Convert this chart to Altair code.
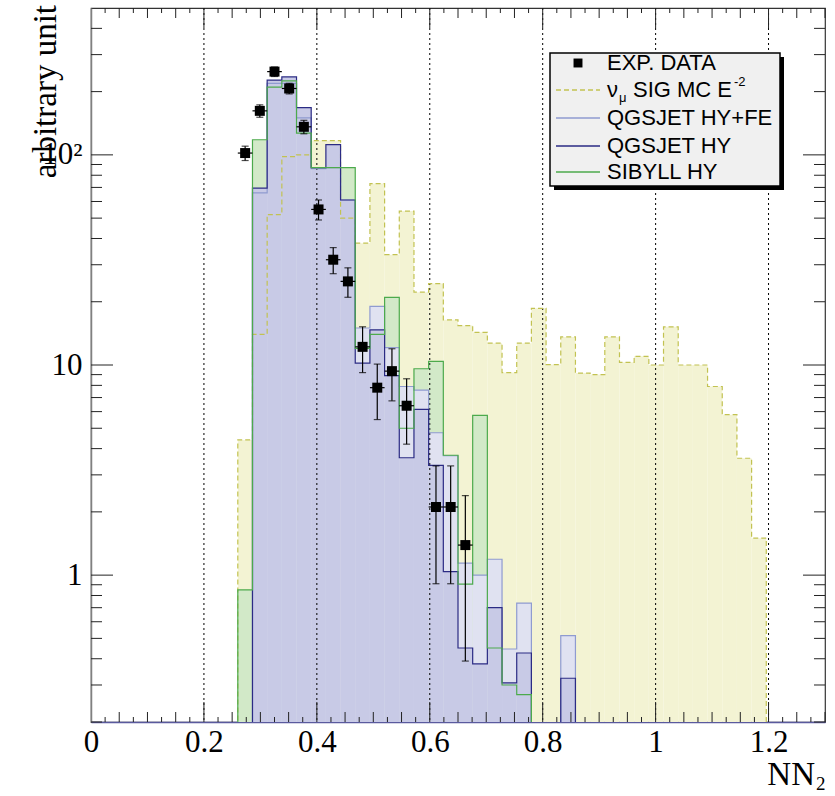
import altair as alt
import pandas as pd

# ---------------- data ----------------
BIN_WIDTH = 0.026          # 50 bins on [0, 1.3]

# signal nu_mu MC (E^-2), bins 10..45
sig_first_bin = 10
sig_values = [4.4, 14, 52, 98, 100, 117, 117, 50, 38, 73, 33.5, 54, 22.2, 24.4,
              16.4, 15.4, 14.3, 12.7, 9.2, 12.7, 18.6, 10.05, 13.6, 9.15, 9.0,
              13.6, 10.3, 11.0, 10.0, 15.2, 10.0, 10.0, 7.9, 5.8, 3.6, 1.5]

# QGSJET HY+FE, bins 11..32
hyfe_first_bin = 11
hyfe_values = [66, 219, 219, 150, 86, 87, 61, 15, 19, 12.1, 7.9, 7.6, 4.76, 3.7,
               1.14, 1.0, 1.19, 0.445, 0.736, 0, 0, 0.515]

# QGSJET HY, bins 11..32
hy_first_bin = 11
hy_values = [69.5, 227, 235, 168, 87, 112, 61, 10.2, 14.7, 8.9, 3.62, 6.15, 3.33,
             1.04, 0.45, 0.378, 0.70, 0.307, 0.426, 0, 0, 0.323]

# SIBYLL HY, bins 10..29
sib_first_bin = 10
sib_values = [0.85, 118, 210, 225, 127, 87, 87, 87, 12, 14, 21, 5, 9.6, 10.4,
              3.72, 0.906, 5.76, 0.45, 0.3, 0.27]

# experimental data, bins 10..25
data_first_bin = 10
data_values = [102, 162, 249, 207, 136, 55, 31.7, 25, 12.2, 7.8, 9.35, 6.4, None,
               2.11, 2.11, 1.39]
data_errors = [8, 11, 13, 12, 10, 6, 4.5, 4, 3, 2.3, 2.6, 2.2, None, 1.2, 1.2, 1.0]

x_tick_labels = [0, 0.2, 0.4, 0.6, 0.8, 1.0, 1.2]
y_tick_labels = [1, 10, 100]

legend_labels = ["EXP. DATA", "SIG MC E", "QGSJET HY+FE", "QGSJET HY", "SIBYLL HY"]

# ---------------- layout / style ----------------
W, H = 734, 714
SERIF = "Liberation Serif"
SANS = "Liberation Sans"

C_SIG_FILL, C_SIG_LINE = "#f3f3d3", "#c2c252"
C_HYFE_FILL, C_HYFE_LINE = "#e0e2f1", "#8f9bd0"
C_HY_FILL, C_HY_LINE = "#c8cae6", "#2b2b84"
C_SIB_FILL, C_SIB_LINE = "#d2e9c8", "#4caa4c"

xs = alt.Scale(domain=[0, 1.3], nice=False, zero=False)
ys = alt.Scale(type="log", domain=[0.2, 500], nice=False)

xaxis = alt.Axis(values=x_tick_labels, format="~g", ticks=False, grid=False,
                 domainColor="#5a5a9e", domainWidth=1.5, labelFont=SERIF,
                 labelFontSize=31, labelColor="black", labelPadding=5,
                 labelFlush=False, title=None)
yaxis = alt.Axis(values=y_tick_labels,
                 labelExpr="datum.value >= 100 ? '10\u00b2' : (datum.value >= 10 ? '10' : '1')",
                 ticks=False, grid=False, domainColor="#808080", domainWidth=1.5,
                 labelFont=SERIF, labelFontSize=31, labelColor="black",
                 labelPadding=9, title=None)


def X(field):
    return alt.X(field, scale=xs, axis=xaxis)


def Y(field):
    return alt.Y(field, scale=ys, axis=yaxis)


def rect_df(first, vals):
    rows = []
    for i, v in enumerate(vals):
        if v and v > 0:
            lo = (first + i) * BIN_WIDTH
            rows.append({"lo": lo, "hi": lo + BIN_WIDTH, "v": v})
    return pd.DataFrame(rows)


def outline_df(first, vals):
    floor = 0.05
    xsv, vsv = [first * BIN_WIDTH], [floor]
    hi = first * BIN_WIDTH
    for i, v in enumerate(vals):
        lo = (first + i) * BIN_WIDTH
        hi = lo + BIN_WIDTH
        val = v if v and v > 0 else floor
        xsv += [lo, hi]
        vsv += [val, val]
    xsv.append(hi)
    vsv.append(floor)
    return pd.DataFrame({"x": xsv, "v": vsv, "o": list(range(len(xsv)))})


def fill_layer(first, vals, color):
    return alt.Chart(rect_df(first, vals)).mark_rect(
        fill=color, strokeWidth=0
    ).encode(x=X("lo:Q"), x2="hi:Q", y=Y("v:Q"), y2=alt.value(H))


def line_layer(first, vals, color, dash=None, width=1.2):
    kw = dict(color=color, strokeWidth=width, clip=True)
    if dash:
        kw["strokeDash"] = dash
    return alt.Chart(outline_df(first, vals)).mark_line(**kw).encode(
        x=X("x:Q"), y=Y("v:Q"), order="o:Q")


layers = [
    fill_layer(sig_first_bin, sig_values, C_SIG_FILL),
    fill_layer(sib_first_bin, sib_values, C_SIB_FILL),
    fill_layer(hyfe_first_bin, hyfe_values, C_HYFE_FILL),
    fill_layer(hy_first_bin, hy_values, C_HY_FILL),
]

# dotted grid on top of the fills
grid_df = pd.DataFrame({"g": [v for v in x_tick_labels if v > 0]})
layers.append(alt.Chart(grid_df).mark_rule(color="black", strokeDash=[2, 3], strokeWidth=1)
              .encode(x=X("g:Q")))

layers += [
    line_layer(sig_first_bin, sig_values, C_SIG_LINE, dash=[5, 3]),
    line_layer(hyfe_first_bin, hyfe_values, C_HYFE_LINE),
    line_layer(hy_first_bin, hy_values, C_HY_LINE),
    line_layer(sib_first_bin, sib_values, C_SIB_LINE),
]

# ---------------- data points ----------------
rows = []
for i, (v, e) in enumerate(zip(data_values, data_errors)):
    if v is None:
        continue
    xc = (data_first_bin + i + 0.5) * BIN_WIDTH
    rows.append({"x": xc, "v": v, "lo": v - e, "hi": v + e,
                 "xl": xc - BIN_WIDTH / 2, "xh": xc + BIN_WIDTH / 2})
pts = pd.DataFrame(rows)
pbase = alt.Chart(pts)
layers += [
    pbase.mark_rule(color="black", strokeWidth=1.2).encode(x=X("x:Q"), y=Y("lo:Q"), y2="hi:Q"),
    pbase.mark_tick(orient="horizontal", size=7, thickness=1.2, color="black").encode(x=X("x:Q"), y=Y("lo:Q")),
    pbase.mark_tick(orient="horizontal", size=7, thickness=1.2, color="black").encode(x=X("x:Q"), y=Y("hi:Q")),
    pbase.mark_rule(color="black", strokeWidth=1.2).encode(x=X("xl:Q"), x2="xh:Q", y=Y("v:Q")),
    pbase.mark_square(size=100, color="black", opacity=1).encode(x=X("x:Q"), y=Y("v:Q")),
]

# ---------------- inward ticks (ROOT style) ----------------
def xt(vals, length):
    df = pd.DataFrame({"t": vals})
    b = alt.Chart(df).mark_rule(color="#222", strokeWidth=1)
    return [b.encode(x=X("t:Q"), y=alt.value(H), y2=alt.value(H - length)),
            b.encode(x=X("t:Q"), y=alt.value(0), y2=alt.value(length))]


def yt(vals, length):
    df = pd.DataFrame({"t": vals})
    b = alt.Chart(df).mark_rule(color="#222", strokeWidth=1)
    return [b.encode(y=Y("t:Q"), x=alt.value(0), x2=alt.value(length)),
            b.encode(y=Y("t:Q"), x=alt.value(W), x2=alt.value(W - length))]


x_small = [round(k * 0.025, 4) for k in range(1, 53) if k % 2 == 1]
x_med = [round(k * 0.05, 4) for k in range(1, 27) if k % 4 != 0]
x_major = [v for v in x_tick_labels if v > 0]
layers += xt(x_small, 5) + xt(x_med, 10) + xt(x_major, 20)

y_minor = [0.2, 0.3, 0.4, 0.5, 0.6, 0.7, 0.8, 0.9,
           2, 3, 4, 5, 6, 7, 8, 9, 20, 30, 40, 50, 60, 70, 80, 90, 200, 300, 400]
layers += yt(y_minor, 11) + yt(y_tick_labels, 22)

# ---------------- titles ----------------
one = pd.DataFrame({"a": [0]})
T = alt.Chart(one)
layers += [
    T.mark_text(text="arbitrary unit", font=SERIF, fontSize=33, angle=270,
                align="right", baseline="middle", color="black")
     .encode(x=alt.value(-45), y=alt.value(-3)),
    T.mark_text(text="NN", font=SERIF, fontSize=33, align="right",
                baseline="alphabetic", color="black")
     .encode(x=alt.value(724), y=alt.value(777)),
    T.mark_text(text="2", font=SERIF, fontSize=19, align="left",
                baseline="alphabetic", color="black")
     .encode(x=alt.value(725), y=alt.value(782)),
]

# ---------------- legend ----------------
LX0, LX1, LY0, LY1 = 459, 689, 45, 178
layers += [
    T.mark_rect(fill="black").encode(x=alt.value(LX0 + 4), x2=alt.value(LX1 + 4),
                                     y=alt.value(LY0 + 4), y2=alt.value(LY1 + 4)),
    T.mark_rect(fill="#f0f0f0", stroke="black", strokeWidth=1.5)
     .encode(x=alt.value(LX0), x2=alt.value(LX1), y=alt.value(LY0), y2=alt.value(LY1)),
]
row_y = [55, 82, 110, 138, 164]
TX = 516
layers += [
    T.mark_square(size=80, color="black", opacity=1).encode(x=alt.value(487), y=alt.value(row_y[0])),
    T.mark_text(text=legend_labels[0], font=SANS, fontSize=22, align="left", baseline="middle")
     .encode(x=alt.value(TX), y=alt.value(row_y[0])),
]
layers += [
    T.mark_rule(color=C_SIG_LINE, strokeWidth=1.3, strokeDash=[5, 3])
     .encode(x=alt.value(465), x2=alt.value(509), y=alt.value(row_y[1])),
    T.mark_text(text="\u03bd", font=SANS, fontSize=22, align="left", baseline="middle")
     .encode(x=alt.value(TX), y=alt.value(row_y[1])),
    T.mark_text(text="\u03bc", font=SANS, fontSize=13, align="left", baseline="middle")
     .encode(x=alt.value(TX + 12), y=alt.value(row_y[1] + 8)),
    T.mark_text(text=legend_labels[1], font=SANS, fontSize=22, align="left", baseline="middle")
     .encode(x=alt.value(TX + 26), y=alt.value(row_y[1])),
    T.mark_text(text="-2", font=SANS, fontSize=13, align="left", baseline="middle")
     .encode(x=alt.value(TX + 127), y=alt.value(row_y[1] - 8)),
]
for lab, col, ry in [(legend_labels[2], C_HYFE_LINE, row_y[2]),
                     (legend_labels[3], C_HY_LINE, row_y[3]),
                     (legend_labels[4], C_SIB_LINE, row_y[4])]:
    layers += [
        T.mark_rule(color=col, strokeWidth=1.5).encode(x=alt.value(465), x2=alt.value(509), y=alt.value(ry)),
        T.mark_text(text=lab, font=SANS, fontSize=22, align="left", baseline="middle")
         .encode(x=alt.value(TX), y=alt.value(ry)),
    ]

chart = alt.layer(*layers).properties(
    width=W, height=H,
    autosize=alt.AutoSizeParams(type="none"),
    padding={"left": 91, "top": 8, "right": 10, "bottom": 74},
    background="white",
).configure_view(stroke="#333", strokeWidth=1.2)

chart.save("out.html", embed_options={"renderer": "svg", "actions": False})
